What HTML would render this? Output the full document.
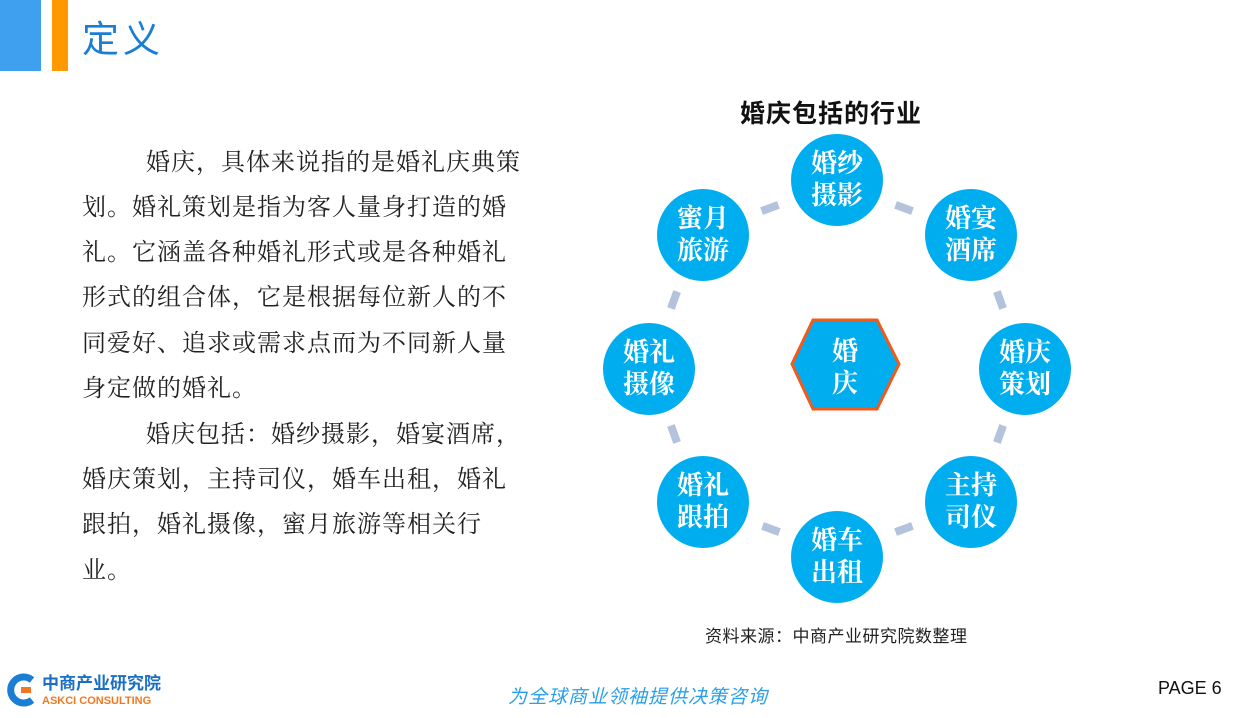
<!DOCTYPE html>
<html><head><meta charset="utf-8"><style>
body{margin:0;width:1250px;height:718px;position:relative;background:#fff;font-family:"Liberation Sans","Noto Sans CJK SC",sans-serif;overflow:hidden}
.a{position:absolute}
.c{position:absolute;width:92px;height:92px;border-radius:50%;background:#00aeef;color:#fff;font-family:"Liberation Serif","Noto Serif CJK SC",serif;font-size:26px;line-height:32px;text-align:center;display:flex;align-items:center;justify-content:center;font-weight:bold}
.d{position:absolute;width:18px;height:8px;background:#b4c3dc}
.t{position:absolute;left:82px;font-size:24px;letter-spacing:1px;color:#222;white-space:nowrap;font-family:"Liberation Serif","Noto Serif CJK SC",serif}
</style></head><body>
<div class="a" style="left:0;top:0;width:41px;height:71px;background:#3fa0f0"></div>
<div class="a" style="left:52px;top:0;width:16px;height:71px;background:#ff9900"></div>
<div class="a" style="left:82px;top:18px;font-size:37px;color:#1a7fd4;letter-spacing:4px;line-height:44px">定义</div>

<div class="t" style="top:142px;left:146px">婚庆，具体来说指的是婚礼庆典策</div>
<div class="t" style="top:187px">划。婚礼策划是指为客人量身打造的婚</div>
<div class="t" style="top:232px">礼。它涵盖各种婚礼形式或是各种婚礼</div>
<div class="t" style="top:277px">形式的组合体，它是根据每位新人的不</div>
<div class="t" style="top:323px">同爱好、追求或需求点而为不同新人量</div>
<div class="t" style="top:368px">身定做的婚礼。</div>
<div class="t" style="top:414px;left:146px">婚庆包括：婚纱摄影，婚宴酒席，</div>
<div class="t" style="top:459px">婚庆策划，主持司仪，婚车出租，婚礼</div>
<div class="t" style="top:504px">跟拍，婚礼摄像，蜜月旅游等相关行</div>
<div class="t" style="top:550px">业。</div>

<div class="a" style="left:740px;top:94px;font-size:25px;font-weight:bold;color:#111;letter-spacing:1px">婚庆包括的行业</div>

<div class="d" style="left:761px;top:204px;transform:rotate(-20deg)"></div>
<div class="d" style="left:895px;top:204px;transform:rotate(20deg)"></div>
<div class="d" style="left:665px;top:296px;transform:rotate(-70deg)"></div>
<div class="d" style="left:991px;top:296px;transform:rotate(70deg)"></div>
<div class="d" style="left:665px;top:430px;transform:rotate(70deg)"></div>
<div class="d" style="left:991px;top:430px;transform:rotate(-70deg)"></div>
<div class="d" style="left:762px;top:525px;transform:rotate(20deg)"></div>
<div class="d" style="left:895px;top:525px;transform:rotate(-20deg)"></div>

<div class="c" style="left:791px;top:134px">婚纱<br>摄影</div>
<div class="c" style="left:657px;top:189px">蜜月<br>旅游</div>
<div class="c" style="left:925px;top:189px">婚宴<br>酒席</div>
<div class="c" style="left:603px;top:323px">婚礼<br>摄像</div>
<div class="c" style="left:979px;top:323px">婚庆<br>策划</div>
<div class="c" style="left:657px;top:456px">婚礼<br>跟拍</div>
<div class="c" style="left:925px;top:456px">主持<br>司仪</div>
<div class="c" style="left:791px;top:511px">婚车<br>出租</div>

<svg class="a" style="left:0;top:0" width="1250" height="718">
<polygon points="813,320 877,320 899,364 877,409 813,409 792,364" fill="#00aeef" stroke="#f05a1a" stroke-width="3"/>
<text x="845" y="360" font-size="26" fill="#fff" text-anchor="middle" font-family="Liberation Serif,Noto Serif CJK SC,serif" font-weight="bold">婚</text>
<text x="845" y="392" font-size="26" fill="#fff" text-anchor="middle" font-family="Liberation Serif,Noto Serif CJK SC,serif" font-weight="bold">庆</text>
</svg>

<div class="a" style="left:705px;top:622px;font-size:17px;color:#222;letter-spacing:0.5px">资料来源：中商产业研究院数整理</div>

<svg class="a" style="left:4px;top:672px" width="36" height="36"><path d="M28,8 A13,13 0 1,0 28,28" fill="none" stroke="#1a7fd4" stroke-width="7"/><rect x="17" y="15" width="10" height="6" fill="#f07820"/></svg>
<div class="a" style="left:42px;top:674px;font-size:17px;font-weight:bold;color:#1a6fc4;line-height:20px">中商产业研究院</div>
<div class="a" style="left:42px;top:694px;font-size:11px;font-weight:bold;color:#f07820;line-height:14px">ASKCI CONSULTING</div>
<div class="a" style="left:508px;top:682px;font-size:19px;font-style:italic;color:#2aa0e8;letter-spacing:1px">为全球商业领袖提供决策咨询</div>
<div class="a" style="left:1158px;top:678px;font-size:18px;color:#111">PAGE 6</div>
</body></html>
